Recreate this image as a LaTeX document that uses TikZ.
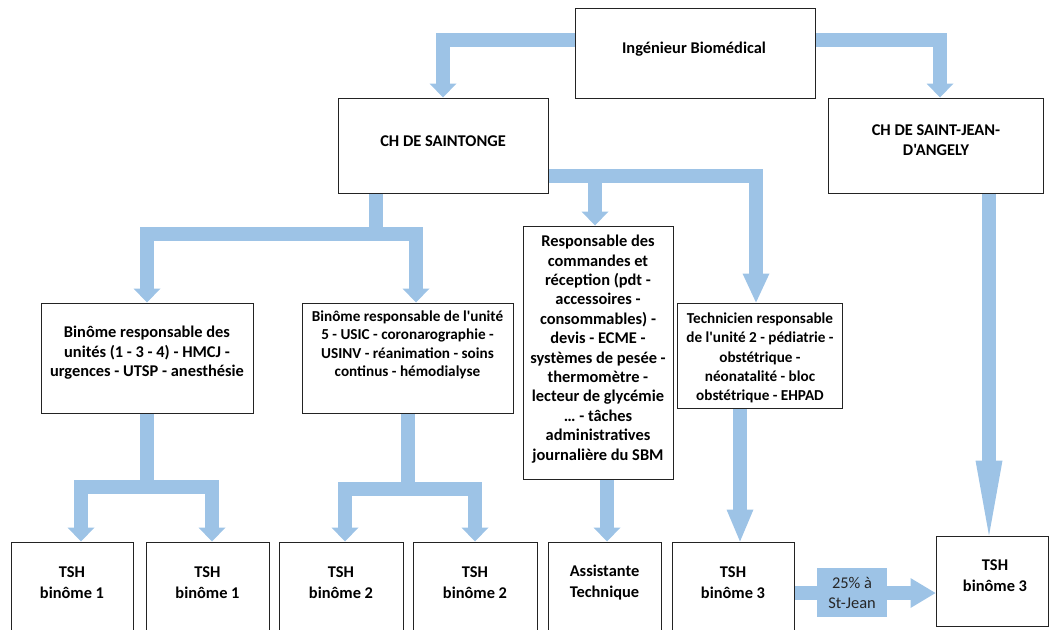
\documentclass[tikz,border=0pt]{standalone}
\usepackage{fontspec}
\setmainfont{Carlito}[Ligatures=TeXOff]
\usetikzlibrary{arrows.meta}
\pgfdeclarelayer{background}
\pgfsetlayers{background,main}
\definecolor{arrowblue}{RGB}{157,195,230}
\definecolor{boxline}{RGB}{35,35,35}
\tikzset{
  box/.style={draw=boxline, line width=1pt, fill=white, rectangle, inner sep=0pt},
  txt/.style={font=\bfseries\fontsize{16.4}{19.4}\selectfont, align=center, inner sep=0pt, text=black},
  conn/.style={draw=arrowblue, line width=14pt},
  tipA/.style={-{Triangle[width=27pt 0 0,length=14pt 0 0,line width=0pt]}},
  tipB/.style={-{Triangle[width=27pt 0 0,length=29pt 0 0,line width=0pt]}},
  tipC/.style={-{Triangle[width=27pt 0 0,length=75pt 0 0,line width=0pt]}},
  tipE/.style={-{Triangle[width=27pt 0 0,length=32pt 0 0,line width=0pt]}},
  tipD/.style={-{Triangle[width=30pt 0 0,length=25pt 0 0,line width=0pt]}},
  lbl/.style={fill=arrowblue, inner sep=0pt, minimum width=70pt, minimum height=49pt, align=center,
    font=\fontsize{16.4}{20}\selectfont, text=black!85}
}
\begin{document}
\begin{tikzpicture}[x=1pt,y=-1pt]
\useasboundingbox (0,0) rectangle (1049,629);
\clip (0,0) rectangle (1049,629);

% boxes
\node[box, minimum width=240pt, minimum height=90pt] (ing) at (695,53) {};
\node[box, minimum width=210pt, minimum height=95pt] (sai) at (443,145.5) {};
\node[box, minimum width=215pt, minimum height=95pt] (sje) at (935.5,145.5) {};
\node[box, minimum width=212pt, minimum height=110pt] (b1) at (147,358) {};
\node[box, minimum width=211pt, minimum height=110pt] (b2) at (407.5,358) {};
\node[box, minimum width=150pt, minimum height=253pt] (resp) at (598,352.5) {};
\node[box, minimum width=165pt, minimum height=105pt] (tech) at (759.5,355.5) {};
\node[box, minimum width=122pt, minimum height=93pt] (t1) at (72,588.5) {};
\node[box, minimum width=123pt, minimum height=93pt] (t2) at (207.5,588.5) {};
\node[box, minimum width=124pt, minimum height=93pt] (t3) at (341,588.5) {};
\node[box, minimum width=124pt, minimum height=93pt] (t4) at (475,588.5) {};
\node[box, minimum width=113pt, minimum height=93pt] (t5) at (604.5,588.5) {};
\node[box, minimum width=122pt, minimum height=93pt] (t6) at (733,588.5) {};
\node[box, minimum width=112pt, minimum height=90pt] (t7) at (992,581) {};

% texts
\node[txt] (ingT) at (694,49) {Ingénieur Biomédical};
\node[txt] (saiT) at (443,141) {CH DE SAINTONGE};
\node[txt, font=\bfseries\fontsize{16.4}{20}\selectfont] (sjeT) at (936,140) {CH DE SAINT-JEAN-\\D'ANGELY};
\node[txt] (b1T) at (147,353) {Binôme responsable des\\unités (1 - 3 - 4) - HMCJ -\\urgences - UTSP - anesthésie};
\node[txt, font=\bfseries\fontsize{15.2}{18.3}\selectfont] (b2T) at (407.5,345) {Binôme responsable de l'unité\\5 - USIC - coronarographie -\\USINV - réanimation - soins\\continus - hémodialyse};
\node[txt] (respT) at (598,349) {Responsable des\\commandes et\\réception (pdt -\\accessoires -\\consommables) -\\devis - ECME -\\systèmes de pesée -\\thermomètre -\\lecteur de glycémie\\… - tâches\\administratives\\journalière du SBM};
\node[txt, font=\bfseries\fontsize{15.2}{19.2}\selectfont] (techT) at (760,358) {Technicien responsable\\de l'unité 2 - pédiatrie -\\obstétrique -\\néonatalité - bloc\\obstétrique - EHPAD};
\node[txt, font=\bfseries\fontsize{16.4}{21}\selectfont] (t1T) at (72,583) {TSH\\binôme 1};
\node[txt, font=\bfseries\fontsize{16.4}{21}\selectfont] (t2T) at (207.5,583) {TSH\\binôme 1};
\node[txt, font=\bfseries\fontsize{16.4}{21}\selectfont] (t3T) at (341,583) {TSH\\binôme 2};
\node[txt, font=\bfseries\fontsize{16.4}{21}\selectfont] (t4T) at (475,583) {TSH\\binôme 2};
\node[txt, font=\bfseries\fontsize{16.4}{21}\selectfont] (t5T) at (604.5,583) {Assistante\\Technique};
\node[txt, font=\bfseries\fontsize{16.4}{21}\selectfont] (t6T) at (733,583) {TSH\\binôme 3};
\node[txt, font=\bfseries\fontsize{16.4}{21}\selectfont] (t7T) at (995,576) {TSH\\binôme 3};

\node[lbl] (pct) at (852,592.5) {25\% à\\St-Jean};

% helper coordinates
\coordinate (sjS) at ([xshift=53.5pt]sje.south);
\coordinate (rsS) at ([xshift=9pt]resp.south);
\coordinate (tcS) at ([xshift=-19.5pt]tech.south);
\coordinate (t6E) at ([yshift=-4.5pt]t6.east);

\begin{pgfonlayer}{background}
\draw[conn,tipA] ([yshift=13pt]ing.west) -| (sai.north);
\draw[conn,tipA] ([yshift=13pt]ing.east) -| ([xshift=4.5pt]sje.north);
\draw[conn,tipA] ([xshift=-67pt]sai.south) -- ++(0,40.5) -| (b1.north);
\draw[conn,tipA] ([xshift=-67pt]sai.south) -- ++(0,40.5) -| ([xshift=8.5pt]b2.north);
\draw[conn,tipA] ([yshift=-30.5pt]sai.east) -| ([xshift=-3pt]resp.north);
\draw[conn,tipB] ([yshift=-30.5pt]sai.east) -| ([xshift=-3.5pt]tech.north);
\draw[conn,tipC] (sjS) -- (sjS |- t7.north);
\draw[conn,tipA] (b1.south) -- ++(0,73.5) -| ([xshift=9pt]t1.north);
\draw[conn,tipA] (b1.south) -- ++(0,73.5) -| ([xshift=4.5pt]t2.north);
\draw[conn,tipA] (b2.south) -- ++(0,75.5) -| ([xshift=4pt]t3.north);
\draw[conn,tipA] (b2.south) -- ++(0,75.5) -| (t4.north);
\draw[conn,tipA] (rsS) -- (rsS |- t5.north);
\draw[conn,tipE] (tcS) -- (tcS |- t6.north);
\draw[conn] (t6E) -- (t6E -| pct.west);
\draw[conn,tipD] (t6E -| pct.east) -- (t6E -| t7.west);
\end{pgfonlayer}
\end{tikzpicture}
\end{document}
